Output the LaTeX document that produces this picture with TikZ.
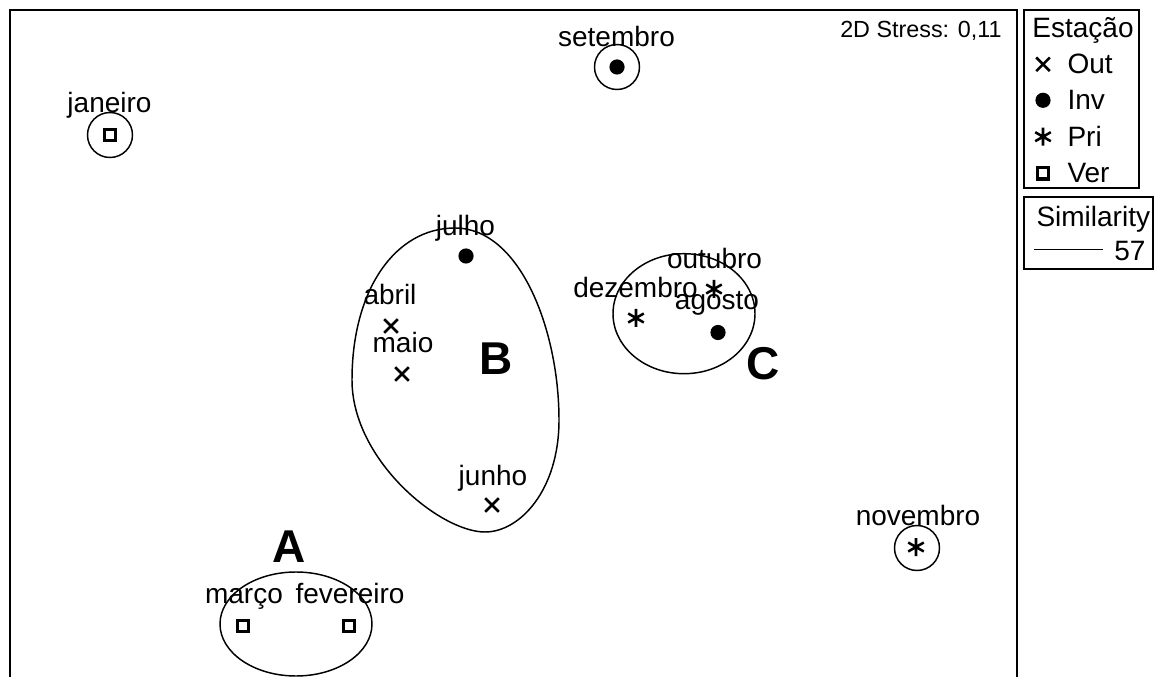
\documentclass[tikz,border=0pt]{standalone}
\usepackage{fontspec}
\setmainfont{Liberation Sans}
\tikzset{every picture/.style={line width=0.75pt}}
\tikzset{
  lbl/.style={anchor=base, inner sep=0pt, font=\fontsize{21}{25}\selectfont},
  grp/.style={anchor=base, inner sep=0pt, font=\fontsize{34.5}{40}\selectfont\bfseries},
  hull/.style={line width=1.1pt},
  frm/.style={line width=1.5pt},
  outmark/.pic={\draw[line width=1.9pt] (-6.8,-6.8) -- (6.8,6.8) (-6.8,6.8) -- (6.8,-6.8);},
  invmark/.pic={\fill (0,0) circle (7.6);},
  primark/.pic={\draw[line width=1.9pt] (0,-9) -- (0,9) (-7.8,-4.5) -- (7.8,4.5) (-7.8,4.5) -- (7.8,-4.5);},
  vermark/.pic={\draw[line width=2.3pt] (-5.7,-5.7) rectangle (5.7,5.7);},
}
\begin{document}
\begin{tikzpicture}[x=0.75pt,y=0.75pt,yscale=-1,xscale=1]
	\useasboundingbox (0,0) rectangle (1161,677);

	%Shape: Frame
	\draw [frm] (9.5,677) -- (9.5,10) -- (1016.7,10) -- (1016.7,677) ;
	% Text Node
	\node [lbl, anchor=base east, font=\fontsize{17.5}{21}\selectfont] (tstress) at (1002,37.5) {2D Stress: 0,11};

	%Shape: Circle janeiro
	\draw [hull] (110,135) circle (22.5) ;
	\pic at (110,135) {vermark};
	%Shape: Circle setembro
	\draw [hull] (617,67) circle (22.5) ;
	\pic at (617,67) {invmark};
	%Shape: Circle novembro
	\draw [hull] (917,548) circle (22.5) ;
	\pic at (916,547) {primark};

	%Shape: Blob B
	\draw [hull] (455,228) .. controls (520,228) and (559,330) .. (559,420) .. controls (559,490) and (520,532) .. (485,532) .. controls (440,532) and (352,460) .. (352,380) .. controls (352,290) and (395,228) .. (455,228) -- cycle ;
	\pic at (466,256) {invmark};
	\pic at (391,326) {outmark};
	\pic at (402,374) {outmark};
	\pic at (492,505) {outmark};

	%Shape: Ellipse C
	\draw [hull] (684,313.7) ellipse (71 and 60) ;
	\pic at (636,318) {primark};
	\pic at (714,289) {primark};
	\pic at (718,332.5) {invmark};

	%Shape: Ellipse A
	\draw [hull] (296,624) ellipse (76 and 52) ;
	\pic at (243,626) {vermark};
	\pic at (349,626) {vermark};

	% Text Node
	\node [lbl] (tjaneiro) at (109.5,113) {janeiro};
	% Text Node
	\node [lbl] (tsetembro) at (616.5,46.5) {setembro};
	% Text Node
	\node [lbl] (tnovembro) at (918,525) {novembro};
	% Text Node
	\node [lbl] (tjulho) at (465.5,236) {julho};
	% Text Node
	\node [lbl] (tabril) at (390,305) {abril};
	% Text Node
	\node [lbl] (tmaio) at (403,353) {maio};
	% Text Node
	\node [lbl] (tjunho) at (493,485) {junho};
	% Text Node
	\node [lbl] (tdezembro) at (635.5,298) {dezembro};
	% Text Node
	\node [lbl] (toutubro) at (714.5,269) {outubro};
	% Text Node
	\node [lbl] (tagosto) at (717,310) {agosto};
	% Text Node
	\node [lbl] (tmarco) at (244,603) {março};
	% Text Node
	\node [lbl] (tfevereiro) at (350,603) {fevereiro};
	% Text Node
	\node [grp] (tA) at (289,562.5) {A};
	% Text Node
	\node [grp] (tB) at (496,375) {B};
	% Text Node
	\node [grp] (tC) at (763,380) {C};

	%Shape: Legend Estação
	\draw [frm] (1024,10) rectangle (1139,188) ;
	\node [lbl] (testacao) at (1083,37.5) {Estação};
	\pic at (1043,64.3) {outmark};
	\node [lbl, anchor=base west] (tout) at (1067,74) {Out};
	\pic at (1043,100.3) {invmark};
	\node [lbl, anchor=base west] (tinv) at (1067,110) {Inv};
	\pic at (1043,136.7) {primark};
	\node [lbl, anchor=base west] (tpri) at (1067,146.5) {Pri};
	\pic at (1043,173.3) {vermark};
	\node [lbl, anchor=base west] (tver) at (1067,183) {Ver};

	%Shape: Legend Similarity
	\draw [frm] (1024,197) rectangle (1153,269) ;
	\node [lbl, anchor=base west] (tsimilarity) at (1036,227) {Similarity};
	\coordinate (simA) at (1034,249.3);
	\coordinate (simB) at (1103,249.3);
	\draw (simA) -- (simB) ;
	\node [lbl, anchor=base east] (tsimval) at (1146,261) {57};

\end{tikzpicture}
\end{document}
